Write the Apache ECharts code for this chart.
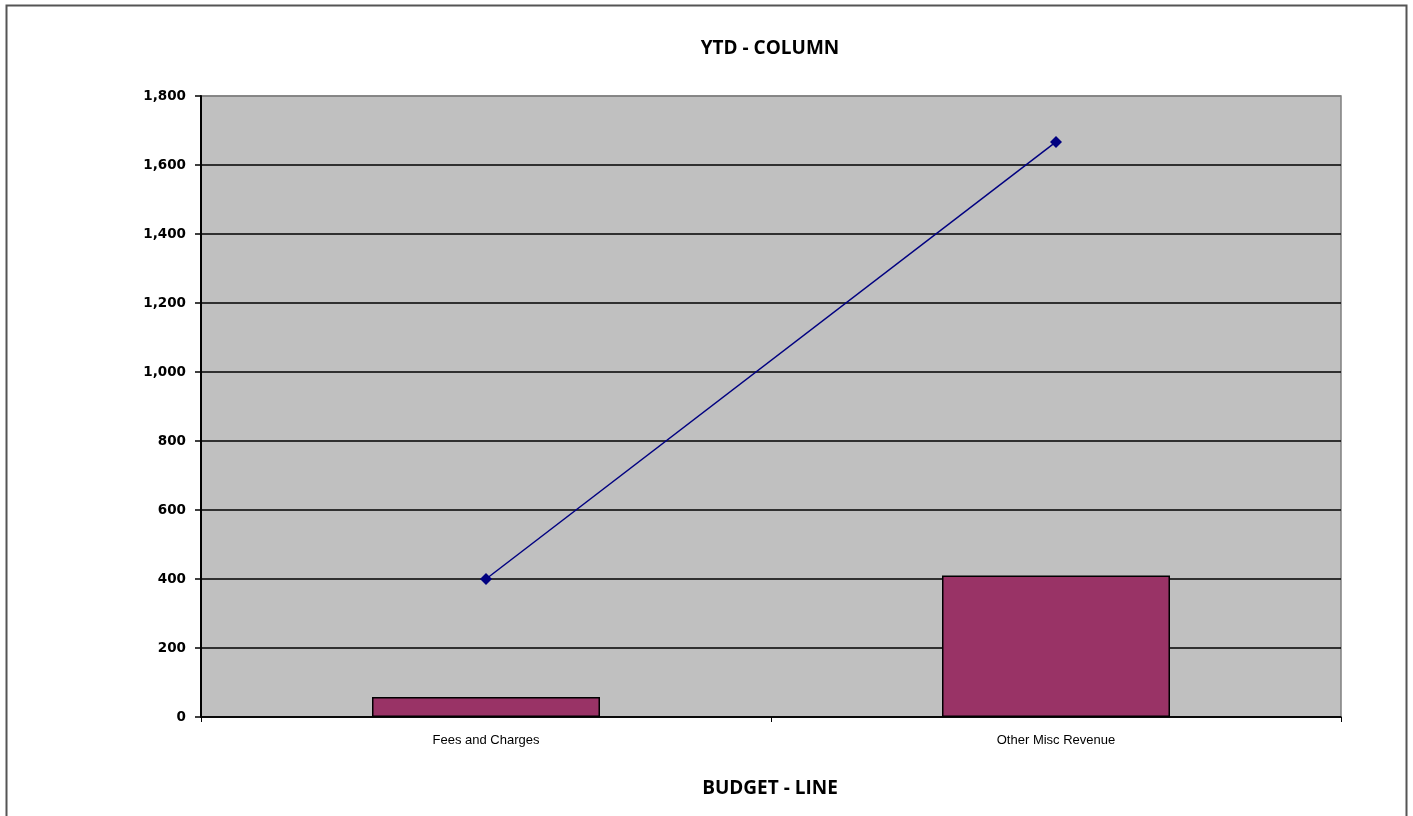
<!DOCTYPE html>
<html>
<head>
<meta charset="utf-8">
<script src="https://cdn.jsdelivr.net/npm/echarts@6/dist/echarts.min.js"></script>
<style>
html,body{margin:0;padding:0;background:#fff;}
#chart{width:1413px;height:816px;}
</style>
</head>
<body>
<div id="chart"></div>
<script>
var categories = ["Fees and Charges", "Other Misc Revenue"];
var ytdColumn = [58, 410];
var budgetLine = [400, 1667];
var titleText = "YTD - COLUMN";
var xAxisTitle = "BUDGET - LINE";

var chart = echarts.init(document.getElementById('chart'));
chart.setOption({
  animation: false,
  backgroundColor: '#ffffff',
  title: [
    {
      text: titleText,
      left: 765, top: 34, textAlign: 'center',
      textStyle: {fontFamily: 'Open Sans', fontWeight: 'bold', fontSize: 19, color: '#000'}
    },
    {
      text: xAxisTitle,
      left: 765, top: 774, textAlign: 'center',
      textStyle: {fontFamily: 'Open Sans', fontWeight: 'bold', fontSize: 19, color: '#000'}
    }
  ],
  graphic: [
    {type: 'rect', shape: {x: 6.5, y: 5.5, width: 1400, height: 830},
     style: {fill: 'none', stroke: '#555', lineWidth: 2}, silent: true, z: -1}
  ],
  grid: {
    left: 201, right: 72, top: 96, bottom: 99,
    show: true, backgroundColor: '#C0C0C0', borderColor: '#808080', borderWidth: 1.5
  },
  xAxis: {
    type: 'category',
    data: categories,
    axisLine: {lineStyle: {color: '#000', width: 1.5}},
    axisTick: {show: true, length: 5, lineStyle: {color: '#000', width: 1}},
    axisLabel: {fontFamily: 'Liberation Sans', fontSize: 13, color: '#000', margin: 17},
    splitLine: {show: false}
  },
  yAxis: {
    type: 'value',
    min: 0, max: 1800, interval: 200,
    axisLine: {show: true, lineStyle: {color: '#000', width: 2}},
    axisTick: {show: true, length: 6, lineStyle: {color: '#000', width: 1.5}},
    axisLabel: {
      fontFamily: 'DejaVu Sans', fontWeight: 'bold', fontSize: 13.5, color: '#000', margin: 15,
      formatter: function (v) { return v.toLocaleString('en-US'); }
    },
    splitLine: {show: true, lineStyle: {
      color: ['#000', '#000', '#000', '#000', '#000', '#000', '#000', '#000', '#000', '#808080'],
      width: 1.5}}
  },
  series: [
    {
      type: 'bar', name: 'YTD', data: ytdColumn, barWidth: '40%',
      itemStyle: {color: '#993366', borderColor: '#000', borderWidth: 1.5},
      z: 2
    },
    {
      type: 'line', name: 'Budget', data: budgetLine,
      symbol: 'diamond', symbolSize: 12,
      lineStyle: {color: '#000080', width: 1.5},
      itemStyle: {color: '#000080'},
      z: 3
    }
  ]
});
</script>
</body>
</html>
